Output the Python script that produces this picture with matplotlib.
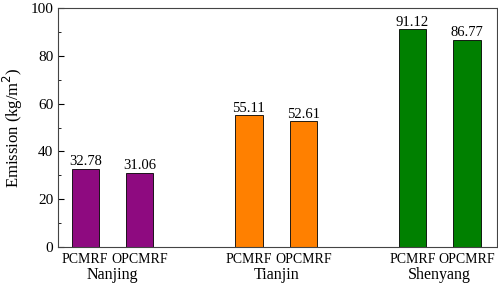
import matplotlib.pyplot as plt
import numpy as np

plt.rcParams['font.family'] = ['Liberation Serif', 'DejaVu Serif']

cities = ['Nanjing', 'Tianjin', 'Shenyang']
methods = ['PCMRF', 'OPCMRF']
values = [[32.78, 31.06], [55.11, 52.61], [91.12, 86.77]]
colors = ['#8e0a80', '#ff8000', '#008000']

fig = plt.figure(figsize=(4.98, 2.86), dpi=100)
ax = fig.add_axes([58 / 498, 1 - 247 / 286, 439 / 498, 239 / 286])

pos = []
labels = []
for i, city in enumerate(cities):
    x = np.array([3 * i, 3 * i + 1])
    bars = ax.bar(x, values[i], width=0.5, color=colors[i],
                  edgecolor='black', linewidth=0.6)
    for b, v in zip(bars, values[i]):
        ax.text(b.get_x() + b.get_width() / 2, v + 0.3, '%.2f' % v,
                ha='center', va='bottom', fontsize=10.5)
    pos.extend(x)
    labels.extend(methods)
    ax.text(3 * i + 0.5, -0.082, city, transform=ax.get_xaxis_transform(),
            ha='center', va='top', fontsize=11.5)

ax.set_xlim(-0.5, 7.55)
ax.set_ylim(0, 100)
ax.set_xticks(pos)
ax.set_xticklabels(labels, fontsize=10)
ax.tick_params(axis='x', length=0, pad=4)
ax.set_yticks(np.arange(0, 101, 20))
ax.set_yticks(np.arange(10, 100, 20), minor=True)
ax.tick_params(axis='y', which='both', direction='in', labelsize=11)
ax.tick_params(axis='y', which='major', length=4)
ax.tick_params(axis='y', which='minor', length=2)
ax.set_ylabel('Emission (kg/m$^2$)', fontsize=12)
for s in ax.spines.values():
    s.set_color('#444444')

fig.savefig('out.png', dpi=100)
